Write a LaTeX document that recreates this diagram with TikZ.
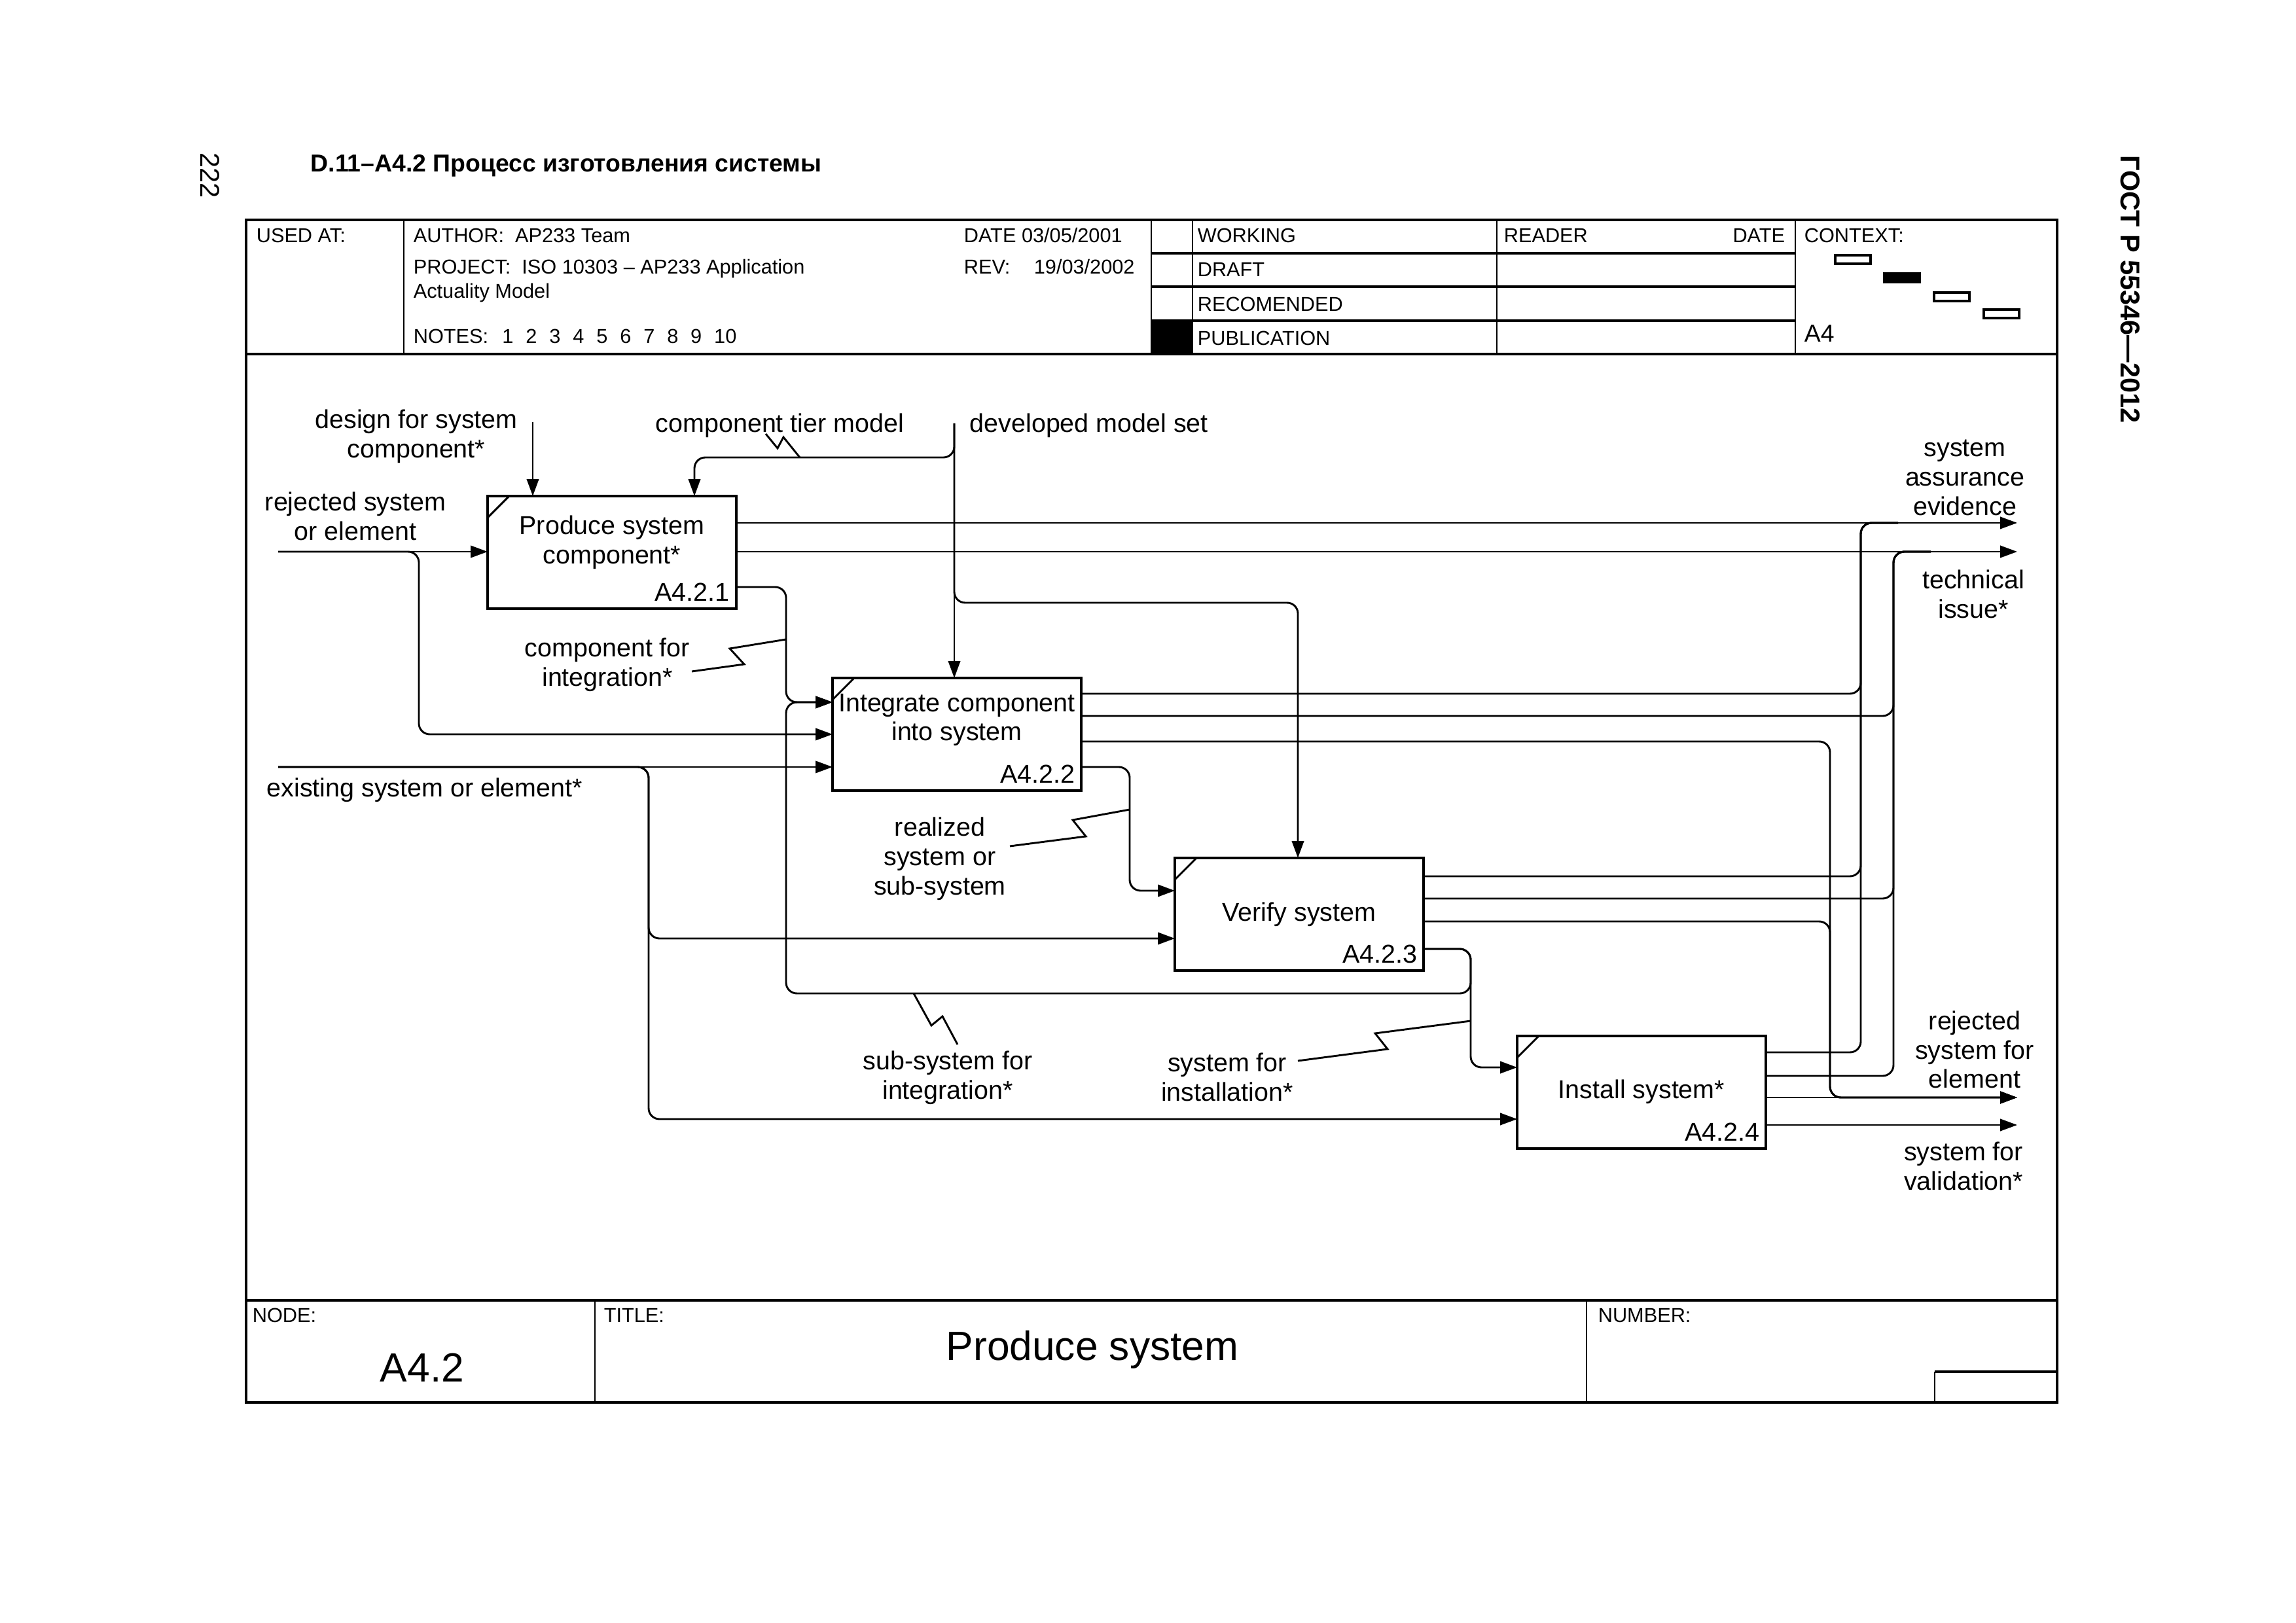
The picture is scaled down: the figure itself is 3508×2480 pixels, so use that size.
\documentclass[tikz,border=0pt]{standalone}
\usepackage{fontspec}
\setmainfont{Liberation Sans}
\usetikzlibrary{arrows.meta}
\newcommand\hfnt{\fontsize{7.4}{8.9}\selectfont}
\newcommand\dfnt{\fontsize{9.5}{10.8}\selectfont}
\newcommand\bfnt{\fontsize{15}{18}\selectfont}
\begin{document}
\begin{tikzpicture}[x=0.0846667mm,y=-0.0846667mm,
  frame/.style={line width=1.1pt},
  thinl/.style={line width=0.7pt},
  conn/.style={line width=0.7pt, rounded corners=1.4mm},
  arr/.style={conn, -{Triangle[length=2.2mm,width=1.55mm]}},
  zig/.style={line width=0.7pt, sharp corners},
  procbox/.style={draw, line width=0.95pt, minimum width=32.17mm, minimum height=14.56mm, inner sep=0pt, outer sep=0pt},
  hdr/.style={inner sep=0pt, font=\hfnt, anchor=base west},
  lbl/.style={inner sep=0pt, align=center, font=\dfnt},
  idl/.style={inner sep=0pt, font=\dfnt, anchor=base east},
  ctx/.style={line width=0.8pt}
]
\useasboundingbox (0,0) rectangle (3508,2480);
\fill[white] (0,0) rectangle (3508,2480);

% page texts
\node[inner sep=0pt, anchor=base west, font=\fontsize{9}{11}\selectfont\bfseries] (ttl) at (474,263) {D.11–A4.2 Процесс изготовления системы};
\node[inner sep=0pt, rotate=-90, font=\fontsize{10}{12}\selectfont\bfseries] (gost) at (3255,442) {ГОСТ Р 55346—2012};
\node[inner sep=0pt, rotate=-90, font=\fontsize{10}{12}\selectfont] (pnum) at (321,268) {222};

% frame
\draw[frame] (376,336) rectangle (3143,2143);
\draw[frame] (376,541) -- (3143,541);
\draw[frame] (376,1987) -- (3143,1987);
% header
\draw[thinl] (617,336) -- (617,541);
\draw[thinl] (1759,336) -- (1759,541);
\draw[thinl] (1822,336) -- (1822,541);
\draw[thinl] (2287,336) -- (2287,541);
\draw[thinl] (2743,336) -- (2743,541);
\draw[frame] (1759,387) -- (2743,387);
\draw[frame] (1759,438) -- (2743,438);
\draw[frame] (1759,490) -- (2743,490);
\fill[black] (1759,490) rectangle (1822,541);
\draw[ctx] (2804,390) rectangle (2858,403);
\filldraw[ctx] (2879,418) rectangle (2933,431);
\draw[ctx] (2955,447) rectangle (3009,460);
\draw[ctx] (3031,473) rectangle (3085,486);

\node[hdr] (usedat) at (391,371) {USED AT:};
\node[hdr] (author) at (631,371) {AUTHOR:\ \ AP233 Team};
\node[hdr] (project) at (631,419) {PROJECT:\ \ ISO 10303 – AP233 Application};
\node[hdr] (actual) at (631,456) {Actuality Model};
\node[hdr] (notes) at (631,525) {NOTES:\hspace{1.8mm}1\hspace{1.6mm}2\hspace{1.6mm}3\hspace{1.6mm}4\hspace{1.6mm}5\hspace{1.6mm}6\hspace{1.6mm}7\hspace{1.6mm}8\hspace{1.6mm}9\hspace{1.6mm}10};
\node[hdr] (date) at (1472,371) {DATE 03/05/2001};
\node[hdr] (rev) at (1472,419) {REV:};
\node[hdr] (revdate) at (1579,419) {19/03/2002};
\node[hdr] (working) at (1829,371) {WORKING};
\node[hdr] (draft) at (1829,423) {DRAFT};
\node[hdr] (recom) at (1829,476) {RECOMENDED};
\node[hdr] (pub) at (1829,528) {PUBLICATION};
\node[hdr] (reader) at (2297,371) {READER};
\node[hdr, anchor=base east] (rdate) at (2728,371) {DATE};
\node[hdr] (context) at (2756,371) {CONTEXT:};
\node[hdr, font=\fontsize{9}{11}\selectfont] (ctxa4) at (2756,523) {A4};

% footer
\draw[thinl] (909,1987) -- (909,2143);
\draw[thinl] (2424,1987) -- (2424,2143);
\draw[frame] (2956,2096) -- (3143,2096);
\draw[thinl] (2956,2096) -- (2956,2143);
\node[hdr] (nodelbl) at (385,2020) {NODE:};
\node[hdr] (titlelbl) at (922,2020) {TITLE:};
\node[hdr] (numlbl) at (2441,2020) {NUMBER:};
\node[inner sep=0pt, font=\bfnt] (nodeval) at (645,2090) {A4.2};
\node[inner sep=0pt, font=\bfnt] (titleval) at (1669,2062) {Produce system};

% boxes
\node[procbox] (b1) at (935,844) {};
\node[procbox] (b2) at (1462,1122) {};
\node[procbox] (b3) at (1985,1397) {};
\node[procbox] (b4) at (2508,1669) {};
\foreach \b in {b1,b2,b3,b4}{
  \draw[line width=0.7pt] (\b.north west) ++(0,33) -- ++(33,-33);
}
\node[lbl] (t1) at (935,829) {Produce system\\component*};
\node[lbl] (t2) at (1462,1100) {Integrate component\\into system};
\node[lbl] (t3) at (1985,1397) {Verify system};
\node[lbl] (t4) at (2508,1668) {Install system*};
\node[idl] (id1) at ([shift={(-10,-11)}]b1.south east) {A4.2.1};
\node[idl] (id2) at ([shift={(-9,-11)}]b2.south east) {A4.2.2};
\node[idl] (id3) at ([shift={(-9,-11)}]b3.south east) {A4.2.3};
\node[idl] (id4) at ([shift={(-9,-11)}]b4.south east) {A4.2.4};

% free ends
\coordinate (designsrc) at (814,645);
\coordinate (devsrc) at (1458,647);
\coordinate (rejsrc) at (425,843);
\coordinate (exsrc) at (425,1172);
\coordinate (oSAE) at (3082,799);
\coordinate (oTI) at (3082,843);
\coordinate (oRSE) at (3082,1677);
\coordinate (oSV) at (3082,1719);

% controls
\draw[arr] (designsrc) -- (b1.north -| designsrc);
\draw[arr] (devsrc) -- (b2.north -| devsrc);
\draw[arr] (devsrc) -- (1458,699) -- (1061,699) -- (b1.north -| 1061,0);
\draw[arr] (devsrc) -- (1458,921) -- (1983,921) -- (b3.north -| 1983,0);

% inputs
\draw[arr] (rejsrc) -- (b1.west |- rejsrc);
\draw[arr] (rejsrc) -- (640,843) -- (640,1122) -- (b2.west |- 0,1122);
\draw[arr] (exsrc) -- (b2.west |- exsrc);
\draw[arr] (exsrc) -- (991,1172) -- (991,1434) -- (b3.west |- 0,1434);
\draw[arr] (exsrc) -- (991,1172) -- (991,1710) -- (b4.west |- 0,1710);

% internal flows
\draw[arr] (b1.east |- 0,897) -- (1201,897) -- (1201,1073) -- (b2.west |- 0,1073);
\draw[arr] (b3.east |- 0,1450) -- (2247,1450) -- (2247,1518) -- (1201,1518) -- (1201,1073) -- (b2.west |- 0,1073);
\draw[arr] (b3.east |- 0,1450) -- (2247,1450) -- (2247,1631) -- (b4.west |- 0,1631);
\draw[arr] (b2.east |- 0,1172) -- (1726,1172) -- (1726,1361) -- (b3.west |- 0,1361);

% outputs
\draw[arr] (b1.east |- oSAE) -- (oSAE);
\draw[arr] (b1.east |- oTI) -- (oTI);
\draw[conn] (b2.east |- 0,1060) -- (2843,1060) -- (2843,799) -- (2900,799);
\draw[conn] (b3.east |- 0,1339) -- (2843,1339) -- (2843,799) -- (2900,799);
\draw[conn] (b4.east |- 0,1608) -- (2843,1608) -- (2843,799) -- (2900,799);
\draw[conn] (b2.east |- 0,1094) -- (2893,1094) -- (2893,843) -- (2950,843);
\draw[conn] (b3.east |- 0,1373) -- (2893,1373) -- (2893,843) -- (2950,843);
\draw[conn] (b4.east |- 0,1644) -- (2893,1644) -- (2893,843) -- (2950,843);
\draw[arr] (b2.east |- 0,1133) -- (2796,1133) -- (2796,1677) -- (oRSE);
\draw[arr] (b3.east |- 0,1408) -- (2796,1408) -- (2796,1677) -- (oRSE);
\draw[arr] (b4.east |- oRSE) -- (oRSE);
\draw[arr] (b4.east |- oSV) -- (oSV);

% squiggles
\draw[zig] (1222,699) -- (1197,668) -- (1188,685) -- (1170,663);
\draw[zig] (1201,977) -- (1115,991) -- (1137,1015) -- (1057,1026);
\draw[zig] (1726,1237) -- (1639,1253) -- (1659,1278) -- (1543,1293);
\draw[zig] (1396,1518) -- (1423,1567) -- (1440,1553) -- (1463,1596);
\draw[zig] (2247,1560) -- (2101,1579) -- (2120,1603) -- (1983,1621);

% labels
\node[lbl] (Ldesign) at (636,667) {design for system\\component*};
\node[lbl, anchor=west] (Ltier) at (1001,650) {component tier model};
\node[lbl, anchor=west] (Ldev) at (1481,650) {developed model set};
\node[lbl] (Lrej) at (543,789) {rejected system\\or element};
\node[lbl, anchor=west] (Lexist) at (407,1207) {existing system or element*};
\node[lbl] (Lcfi) at (928,1016) {component for\\integration*};
\node[lbl] (Lreal) at (1436,1312) {realized\\system or\\sub-system};
\node[lbl] (Lssi) at (1448,1647) {sub-system for\\integration*};
\node[lbl] (Lsfi) at (1875,1646) {system for\\installation*};
\node[lbl] (Lsae) at (3002,730) {system\\assurance\\evidence};
\node[lbl] (Lti) at (3015,908) {technical\\issue*};
\node[lbl] (Lrse) at (3017,1604) {rejected\\system for\\element};
\node[lbl] (Lsv) at (3000,1782) {system for\\validation*};
\end{tikzpicture}
\end{document}
